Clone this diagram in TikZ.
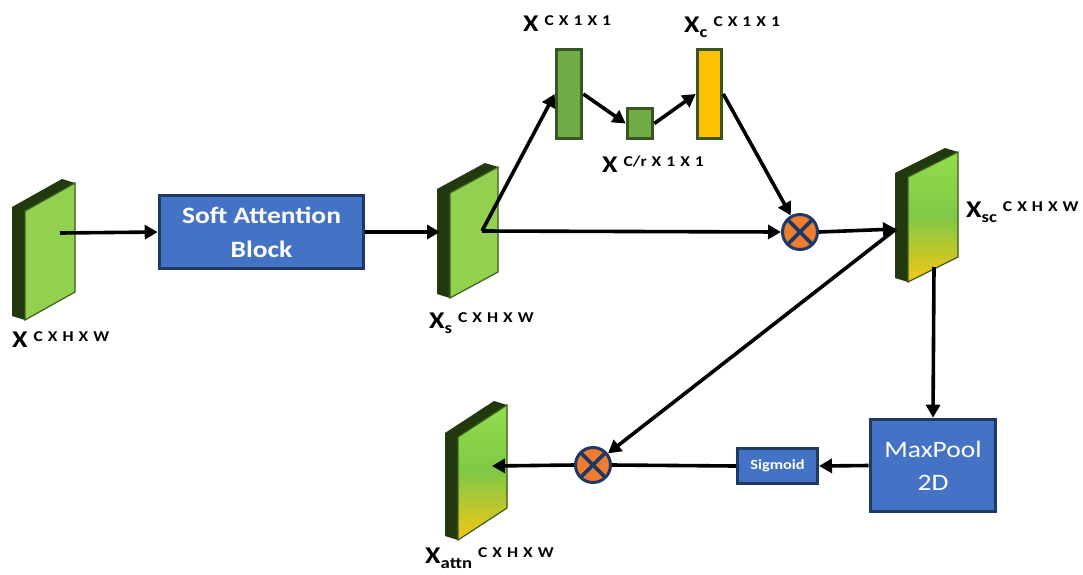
\documentclass[tikz,border=0pt]{standalone}
\usepackage{fontspec}
\setmainfont{Carlito}[FakeStretch=1.17]
\usetikzlibrary{arrows.meta}

\definecolor{boxblue}{HTML}{4472C4}
\definecolor{boxedge}{HTML}{203864}
\definecolor{dotorange}{HTML}{ED7D31}
\definecolor{vecgreen}{HTML}{70AD47}
\definecolor{vecedge}{HTML}{375623}
\definecolor{gatefill}{HTML}{FFC000}
\definecolor{slabside}{HTML}{22380F}
\definecolor{slabedge}{HTML}{3C5F1C}
\definecolor{maplight}{HTML}{92D050}
\definecolor{maptop}{HTML}{92DD4C}
\definecolor{mapmid}{HTML}{80C845}
\definecolor{mapbot}{HTML}{F6C714}

% tensor label: X, optional subscript, superscript with the shape
\newcommand\tens[2]{{\fontsize{24}{24}\selectfont X}%
  \ifx&#1&\hspace{6pt}\else\raisebox{-5pt}{\fontsize{16}{16}\selectfont #1}\hspace{6pt}\fi
  \raisebox{6pt}{\fontsize{15}{15}\selectfont\spaceskip=5pt\relax #2}}

% feature map drawn as a slanted slab: name, x, y (front top-left), width, height, skew, face style
\newcommand\featuremap[7]{%
  \path (#2,#3) coordinate (#1-tl) ++(#4,-#6) coordinate (#1-tr)
        ++(0,#5) coordinate (#1-br) ++(-#4,#6) coordinate (#1-bl);
  \fill[slabside] ([shift={(-13,-4)}]#1-tl) -- ([shift={(-13,-4)}]#1-tr) -- (#1-tr)
        -- (#1-br) -- (#1-bl) -- ([shift={(-13,-4)}]#1-bl) -- cycle;
  \path[draw=slabedge, line width=1.2pt, #7] (#1-tl) -- (#1-tr) -- (#1-br) -- (#1-bl) -- cycle;
}

\tikzset{
  flow/.style={line width=3.6pt, -{Triangle[length=13pt,width=14pt]}},
  plain/.style={line width=3.6pt},
  block/.style={draw=boxedge, fill=boxblue, line width=3.6pt, text=white, align=center, inner sep=0pt},
  vec/.style={draw=vecedge, line width=3.6pt, inner sep=0pt},
  prod/.style={circle, draw=boxedge, fill=dotorange, line width=3pt, minimum size=35pt, inner sep=0pt,
    path picture={\draw[line width=3.6pt]
      (path picture bounding box.north west) -- (path picture bounding box.south east)
      (path picture bounding box.north east) -- (path picture bounding box.south west);}},
  lab/.style={anchor=base west, inner sep=0pt, font=\bfseries},
  solidmap/.style={fill=maplight},
  shadedmap/.style={top color=maptop, bottom color=mapbot, middle color=mapmid},
}

\begin{document}
\begin{tikzpicture}[x=1pt, y=-1pt]
\fill[white] (0,0) rectangle (1083,574);
\useasboundingbox (0,0) rectangle (1083,574);

% feature maps
\featuremap{fin}{25}{211}{50}{109}{28}{solidmap}
\featuremap{fs}{450}{193}{48}{105}{26}{solidmap}
\featuremap{fsc}{908}{177}{50}{105}{25}{shadedmap}
\featuremap{fat}{458}{437}{49}{103}{32}{shadedmap}

\coordinate (fin-c) at (60,233);
\coordinate (fs-in) at (440,232);
\coordinate (fs-c) at (482,231);
\coordinate (fsc-in) at (896,229);
\coordinate (fsc-bot) at (934,267);
\coordinate (fat-in) at (492,466);

% blocks
\node[block, minimum width=204pt, minimum height=73pt,
      font=\bfseries\fontsize{23.5}{34}\selectfont] (soft) at (261.5,232) {Soft Attention\\Block};
\node[block, minimum width=125pt, minimum height=92pt,
      font=\fontsize{23.5}{33}\selectfont] (mp) at (933,465.5) {MaxPool\\2D};
\node[block, line width=3pt, minimum width=80pt, minimum height=35pt,
      font=\bfseries\fontsize{14}{14}\selectfont] (sig) at (777.5,466) {Sigmoid};

% channel vectors
\node[vec, fill=vecgreen, minimum width=25pt, minimum height=89pt] (v1) at (569,94) {};
\node[vec, fill=vecgreen, minimum width=25pt, minimum height=30pt] (v2) at (640,123.5) {};
\node[vec, fill=gatefill, minimum width=24pt, minimum height=89pt] (v3) at (709.5,94) {};

% products
\node[prod] (ot1) at (800,232) {};
\node[prod] (ot2) at (593,465) {};

% connectors
\draw[flow] (fin-c) -- (soft.west);
\draw[flow] (soft.east |- fs-in) -- (fs-in);
\draw[flow] (fs-c) -- (v1.west);
\draw[flow] (fs-c) -- (ot1.west);
\draw[flow] (v1.east) -- (v2.west);
\draw[flow] (v2.east) -- (v3.west);
\draw[flow] (v3.east) -- (ot1);
\draw[flow] (ot1.east) -- (fsc-in);
\draw[flow] (fsc-in) -- (ot2);
\draw[flow] (fsc-bot) -- (mp.north);
\draw[flow] (mp.west) -- (sig.east);
\draw[plain] (sig.west) -- (ot2.east);
\draw[flow] (ot2.west) -- (fat-in);

% labels
\node[lab] (l-in) at (12,347) {\tens{}{C X H X W}};
\node[lab] (l-s) at (429,328) {\tens{s}{C X H X W}};
\node[lab] (l-v1) at (523,31) {\tens{}{C X 1 X 1}};
\node[lab] (l-v3) at (684,32) {\tens{c}{C X 1 X 1}};
\node[lab] (l-v2) at (602,172) {\tens{}{C/r X 1 X 1}};
\node[lab] (l-sc) at (966,217) {\tens{sc}{C X H X W}};
\node[lab] (l-at) at (425,563) {\tens{attn}{C X H X W}};
\end{tikzpicture}
\end{document}
